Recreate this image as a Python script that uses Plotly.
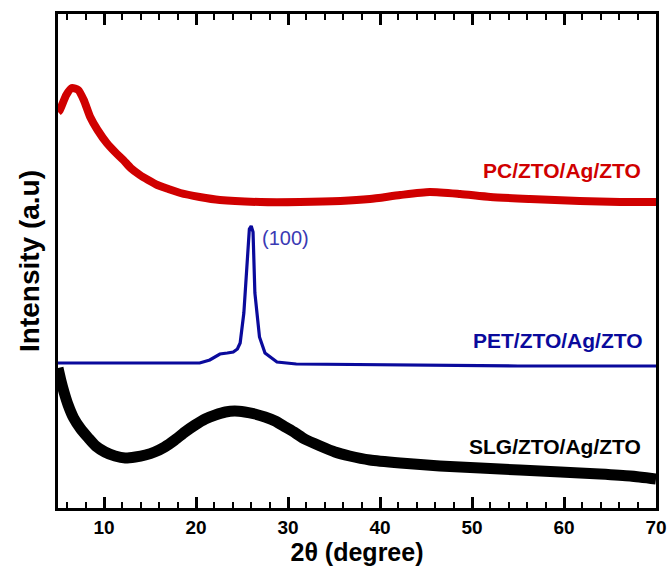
import plotly.graph_objects as go

# 2-theta (degree) and intensity (a.u.)
pc_x = [5.0, 5.2, 5.9, 6.5, 7.2, 7.8, 8.5, 9.3, 10.3, 11.2, 12.1, 12.9, 13.9, 14.8, 15.8, 17.0,
        18.3, 20.4, 22.6, 27.0, 31.3, 35.7, 38.9, 42.2, 45.4, 48.7, 52.0, 56.3, 61.7, 66.1, 70.0]
pc_y = [396, 398, 413, 420, 418, 408, 391, 378, 365, 356, 348, 340, 333, 328, 323, 319,
        315, 311, 308, 306, 306, 307, 309, 313, 316, 314, 311, 309, 307, 306, 306]

pet_x = [5, 10, 15, 20.4, 21.5, 22.6, 23.4, 24.05, 24.5, 24.8, 25.2, 25.5, 25.8, 26.0, 26.2,
         26.4, 26.65, 26.9, 27.5, 28.8, 30.9, 40, 55, 70]
pet_y = [145, 145, 145, 145, 148, 154, 155, 156, 159, 165, 195, 241, 279, 282, 276,
         215, 190, 171, 155, 146, 144, 143, 142, 142]

slg_x = [5.0, 5.3, 5.65, 6.1, 6.7, 7.4, 8.3, 9.1, 10.1, 11.2, 12.3, 13.4, 14.5, 15.5, 16.6, 17.7,
         18.8, 19.9, 21.0, 22.1, 23.2, 24.2, 25.3, 26.4, 27.5, 28.6, 29.7, 30.8, 31.8, 33.5, 35.1,
         36.7, 38.9, 42.2, 46.5, 50.9, 55.2, 59.6, 63.9, 67.2, 70.0]
slg_y = [140, 128, 116, 103, 90, 80, 70, 62, 56, 52, 50, 51, 53, 56, 61, 68,
         76, 83, 89, 93, 96, 97, 96, 94, 91, 87, 81, 75, 69, 62, 56,
         52, 48, 45, 42, 40, 38, 36, 34, 32, 29]

# x-axis tick labels (degree)
major_ticks = [10, 20, 30, 40, 50, 60, 70]

RED = "#d00000"
BLUE = "#0a0a9c"
BLACK = "#000000"

fig = go.Figure()
fig.add_trace(go.Scatter(x=slg_x, y=slg_y, mode="lines", name="SLG/ZTO/Ag/ZTO",
                         line=dict(color=BLACK, width=11, shape="spline", smoothing=0.6)))
fig.add_trace(go.Scatter(x=pet_x, y=pet_y, mode="lines", name="PET/ZTO/Ag/ZTO",
                         line=dict(color=BLUE, width=3.2)))
fig.add_trace(go.Scatter(x=pc_x, y=pc_y, mode="lines", name="PC/ZTO/Ag/ZTO",
                         line=dict(color=RED, width=8, shape="spline", smoothing=0.6)))

lab_font = dict(family="Liberation Sans, Arial, sans-serif", size=21)
fig.add_annotation(x=68.6, y=338, text="<b>PC/ZTO/Ag/ZTO</b>", showarrow=False,
                   xanchor="right", yanchor="middle", font=dict(lab_font, color=RED))
fig.add_annotation(x=68.8, y=168, text="<b>PET/ZTO/Ag/ZTO</b>", showarrow=False,
                   xanchor="right", yanchor="middle", font=dict(lab_font, color=BLUE))
fig.add_annotation(x=68.6, y=62, text="<b>SLG/ZTO/Ag/ZTO</b>", showarrow=False,
                   xanchor="right", yanchor="middle", font=dict(lab_font, color=BLACK))
fig.add_annotation(x=27.0, y=270, text="(100)", showarrow=False,
                   xanchor="left", yanchor="middle",
                   font=dict(family="Liberation Sans, Arial, sans-serif", size=20, color="#3a3ab4"))

fig.update_layout(
    width=669, height=566,
    margin=dict(l=58, r=13, t=14, b=58),
    paper_bgcolor="white", plot_bgcolor="white",
    showlegend=False,
    font=dict(family="Liberation Sans, Arial, sans-serif", color="black"),
)
fig.update_xaxes(
    range=[5, 70], tickmode="array", tickvals=major_ticks,
    ticks="inside", ticklen=11, tickwidth=2.5, tickcolor="#000000",
    minor=dict(tickmode="linear", tick0=0, dtick=2, ticks="inside", ticklen=6,
               tickwidth=2, tickcolor="#000000"),
    showline=True, linewidth=2.5, linecolor="black", mirror="ticks",
    showgrid=False, zeroline=False, automargin=False,
    tickfont=dict(size=19, color="black", weight="bold"),
    title=dict(text="<b>2θ (degree)</b>", font=dict(size=25, color="black"), standoff=3),
)
fig.update_yaxes(
    range=[0, 494], showticklabels=False, ticks="",
    showline=True, linewidth=2.5, linecolor="black", mirror=True,
    showgrid=False, zeroline=False, automargin=False,
    title=dict(text="<b>Intensity (a.u)</b>", font=dict(size=28, color="black"), standoff=8),
)

fig.write_html("out.html")
